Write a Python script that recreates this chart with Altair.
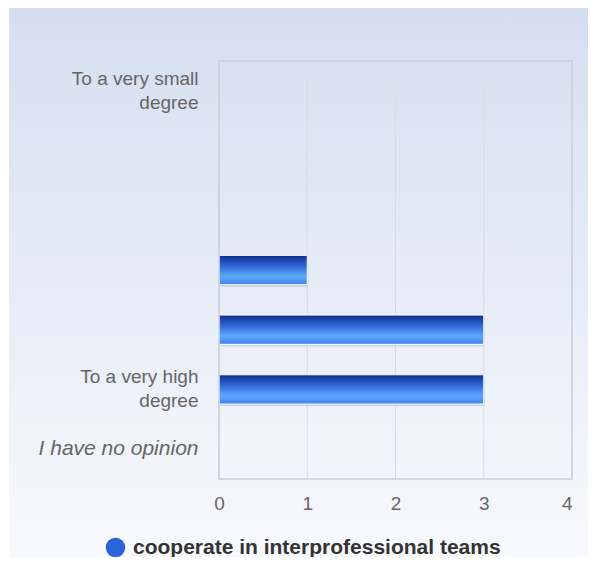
import altair as alt
import pandas as pd

# ---- data ----
categories = ["To a very small degree", "2", "3", "4", "5", "To a very high degree", "I have no opinion"]
counts = [0, 0, 0, 1, 3, 3, 0]
category_labels = [["To a very small", "degree"], "", "", "", "", ["To a very high", "degree"], "I have no opinion"]
x_ticks = [0, 1, 2, 3, 4]
series_name = "cooperate in interprofessional teams"

W, H = 353, 418
PAD = {"left": 211, "top": 53, "right": 16, "bottom": 78}
FONT = "Liberation Sans, Arial, Helvetica, sans-serif"

bars_df = pd.DataFrame({"category": categories, "count": counts, "series": series_name})
ticks_df = pd.DataFrame({"tick": x_ticks})
one = pd.DataFrame({"k": [0]})


def js(v):
    if isinstance(v, list):
        return "[" + ", ".join("'" + s + "'" for s in v) + "]"
    return "'" + v + "'"


label_expr = ""
for c, lab in zip(categories, category_labels):
    label_expr += f"datum.value == '{c}' ? {js(lab)} : "
label_expr += "''"

multi = [c for c, lab in zip(categories, category_labels) if isinstance(lab, list)]
multi_test = "indexof([" + ", ".join("'" + c + "'" for c in multi) + "], datum.value) >= 0"
italic_test = "datum.value == 'I have no opinion'"

xscale = alt.Scale(domain=[0, 4], nice=False, zero=True)
yscale = alt.Scale(domain=categories, paddingInner=0.51, paddingOuter=0.255)

x_axis = alt.Axis(
    title=None, values=x_ticks, format="d", domain=False, ticks=False, grid=False,
    labelFontSize=19, labelColor="#666666", labelFont=FONT, labelPadding=15,
    labelFlush=False,
    labelAlign={"condition": {"test": "datum.value == 4", "value": "right"}, "value": "center"},
    zindex=1,
)
y_axis = alt.Axis(
    title=None, domain=False, ticks=False, grid=False,
    labelExpr=label_expr, labelColor="#666666", labelFont=FONT,
    labelFontSize={"condition": {"test": italic_test, "value": 21}, "value": 19},
    labelPadding=21, labelLineHeight=24, labelLimit=0,
    labelOffset={"condition": {"test": multi_test, "value": -12}, "value": 0},
    labelFontStyle={"condition": {"test": italic_test, "value": "italic"}, "value": "normal"},
    zindex=1,
)

bg_grad = alt.LinearGradient(
    gradient="linear",
    stops=[alt.GradientStop(color="#d3dff0", offset=0), alt.GradientStop(color="#f8f9fd", offset=1)],
    x1=0, x2=0, y1=0, y2=1,
)
bar_grad = alt.LinearGradient(
    gradient="linear",
    stops=[
        alt.GradientStop(color="#0c2d8c", offset=0),
        alt.GradientStop(color="#2f66d2", offset=0.35),
        alt.GradientStop(color="#5da8ff", offset=0.72),
        alt.GradientStop(color="#3f82ea", offset=1),
    ],
    x1=0, x2=0, y1=0, y2=1,
)
legend_grad_color = "#2c63d6"

background = alt.Chart(one).mark_rect(fill=bg_grad, strokeWidth=0).encode(
    x=alt.value(-210), x2=alt.value(W + PAD["right"]),
    y=alt.value(-PAD["top"]), y2=alt.value(H + PAD["bottom"]),
)

grid = alt.Chart(ticks_df).mark_rule(color="#d6dce5", strokeWidth=1).encode(
    x=alt.X("tick:Q", scale=xscale, axis=x_axis),
)

shadow = alt.Chart(bars_df).transform_filter("datum.count > 0").mark_bar(
    fill="#b7c6de", opacity=0.7, yOffset=2, xOffset=1, strokeWidth=0
).encode(
    x=alt.X("count:Q", scale=xscale, axis=x_axis),
    y=alt.Y("category:N", scale=yscale, axis=y_axis),
)

bars = alt.Chart(bars_df).transform_filter("datum.count > 0").mark_bar(
    fill=bar_grad, stroke="white", strokeWidth=1
).encode(
    x=alt.X("count:Q", scale=xscale, axis=x_axis),
    y=alt.Y("category:N", scale=yscale, axis=y_axis),
)

border = alt.Chart(one).mark_rect(fillOpacity=0, stroke="#c8cfda", strokeWidth=1.5).encode(
    x=alt.value(0), x2=alt.value(W), y=alt.value(0), y2=alt.value(H),
)

legend_layer = alt.Chart(bars_df.head(1)).mark_point(filled=True, opacity=0).encode(
    color=alt.Color(
        "series:N",
        scale=alt.Scale(range=[legend_grad_color]),
        legend=alt.Legend(
            title=None, orient="none", legendX=-114, legendY=476,
            symbolType="circle", symbolSize=380, symbolOpacity=1, symbolStrokeWidth=0,
            symbolFillColor=legend_grad_color,
            labelFont=FONT, labelFontSize=21, labelFontWeight="bold", labelColor="#333333",
            labelOffset=7, labelLimit=0,
        ),
    ),
)

chart = alt.layer(background, grid, shadow, bars, border, legend_layer).properties(
    width=W, height=H, padding=PAD, autosize=alt.AutoSizeParams(type="none"),
).configure_view(stroke=None).configure(background="white")

chart.save("out.html", embed_options={"renderer": "svg", "actions": False})
